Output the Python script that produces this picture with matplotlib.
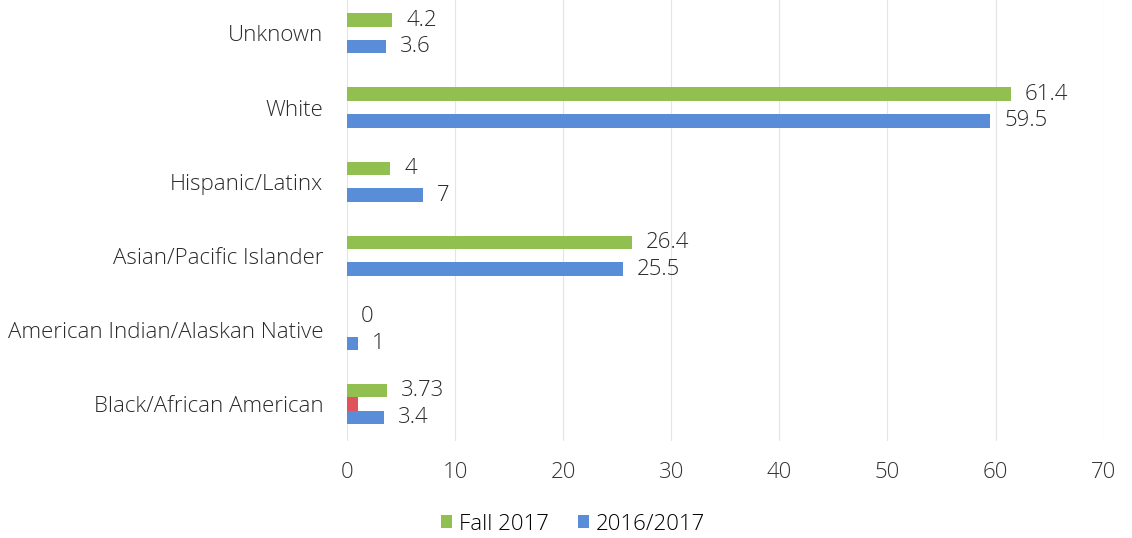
import numpy as np
from matplotlib import pyplot as plt

categories = ["Black/African American", "American Indian/Alaskan Native",
              "Asian/Pacific Islander", "Hispanic/Latinx", "White", "Unknown"]
fall_2017 = [3.73, 0, 26.4, 4, 61.4, 4.2]
year_2016_2017 = [3.4, 1, 25.5, 7, 59.5, 3.6]
fall_labels = ["3.73", "0", "26.4", "4", "61.4", "4.2"]
year_labels = ["3.4", "1", "25.5", "7", "59.5", "3.6"]
# unlabeled middle series, only visible on the first row
extra = [1, 0, 0, 0, 0, 0]

GREEN = "#92C050"
BLUE = "#5A8DD8"
RED = "#E0525C"
TXT = "#2a2a2a"
FS = 16

plt.rcParams['font.family'] = ['Open Sans', 'DejaVu Sans']
plt.rcParams['font.weight'] = 'light'

fig = plt.figure(figsize=(11.32, 5.38), dpi=100)
ax = fig.add_axes([0.3065, 0.18, 0.6685, 0.82])

y = np.arange(len(categories))
h = 0.18

ax.barh(y - h, year_2016_2017, height=h, color=BLUE, label="2016/2017")
ax.barh(y, extra, height=h, color=RED)
ax.barh(y + h, fall_2017, height=h, color=GREEN, label="Fall 2017")

for i in range(len(categories)):
    ax.annotate(fall_labels[i], (fall_2017[i], y[i] + h), xytext=(10, 0),
                textcoords="offset points", va="center", ha="left",
                fontsize=FS, color=TXT)
    ax.annotate(year_labels[i], (year_2016_2017[i], y[i] - h), xytext=(10, 0),
                textcoords="offset points", va="center", ha="left",
                fontsize=FS, color=TXT)

ax.set_xlim(0, 70)
ax.set_ylim(-0.5, 5.45)
ax.set_xticks(range(0, 71, 10))
ax.set_yticks(y)
ax.set_yticklabels(categories, fontsize=FS, color=TXT)
ax.tick_params(axis="x", labelsize=FS, colors="#333333", pad=15, length=0)
ax.tick_params(axis="y", length=0, pad=17)
ax.grid(axis="x", color="#E4E4E4", linewidth=0.8)
ax.set_axisbelow(True)
for s in ax.spines.values():
    s.set_visible(False)

handles, labels = ax.get_legend_handles_labels()
fig.legend(handles[::-1], labels[::-1], loc="center", bbox_to_anchor=(0.506, 0.026),
           ncol=2, frameon=False, fontsize=FS, handlelength=0.5, handleheight=0.5,
           handletextpad=0.3, columnspacing=1.3)

plt.savefig("out.png", dpi=100)
